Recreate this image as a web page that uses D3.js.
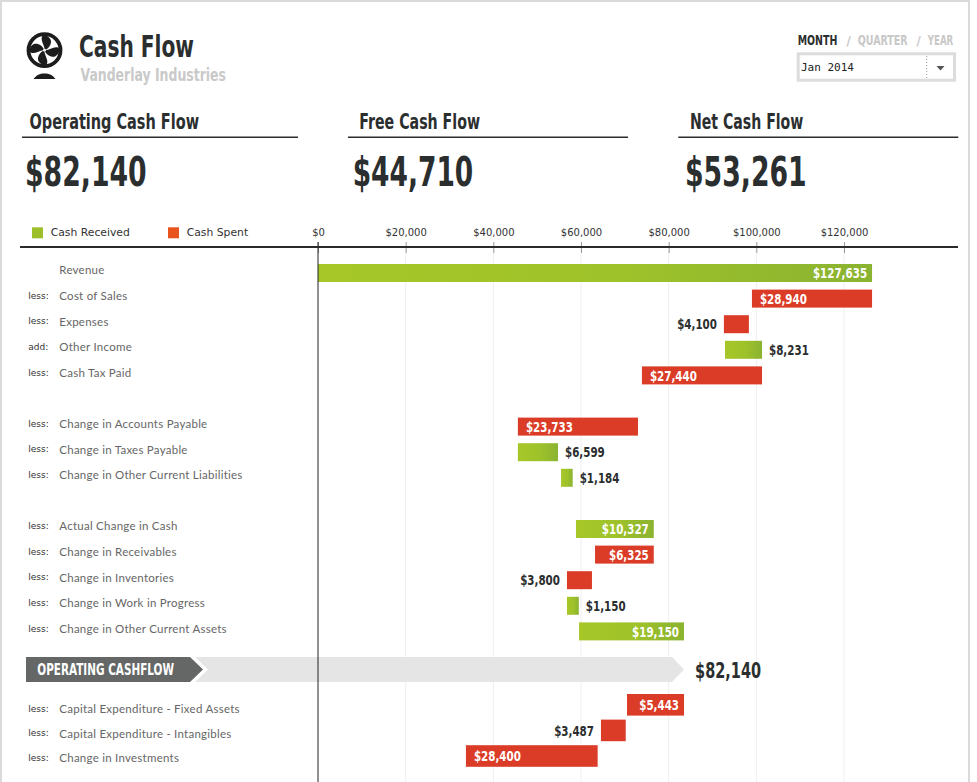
<!DOCTYPE html>
<html><head><meta charset="utf-8">
<script src="https://cdn.jsdelivr.net/npm/d3@7"></script>
<style>
html,body{margin:0;padding:0;background:#fff;}
svg{display:block;}
</style></head><body>
<svg id="chart" width="977" height="782"></svg>
<script>
// ---------------- DATA ----------------
const rowLabels = ["Revenue","Cost of Sales","Expenses","Other Income","Cash Tax Paid",
  "Change in Accounts Payable","Change in Taxes Payable","Change in Other Current Liabilities",
  "Actual Change in Cash","Change in Receivables","Change in Inventories","Change in Work in Progress","Change in Other Current Assets",
  "Capital Expenditure - Fixed Assets","Capital Expenditure - Intangibles","Change in Investments"];
const rowPrefixes = ["","less:","less:","add:","less:","less:","less:","less:","less:","less:","less:","less:","less:","less:","less:","less:"];
const rowGroup = [0,0,0,0,0,1,1,1,2,2,2,2,2,3,3,3];
const flowType = ["received","spent","spent","received","spent","spent","received","received","received","spent","spent","received","received","spent","spent","spent"];
const amounts = [127635,28940,4100,8231,27440,23733,6599,1184,10327,6325,3800,1150,19150,5443,3487,28400];
const barFrom = [0,99000,92600,92850,73900,45600,45600,55450,58850,63200,56800,56800,59550,70500,64550,33750];
const barTo   = [126400,126400,98300,101300,101300,73000,54750,58100,76600,76600,62500,59500,83500,83500,70200,63800];
const tickValues = [0,20000,40000,60000,80000,100000,120000];
const kpiTitles = ["Operating Cash Flow","Free Cash Flow","Net Cash Flow"];
const kpiValues = [82140,44710,53261];
const operatingTotal = 82140;
const legendLabels = ["Cash Received","Cash Spent"];
const periods = ["MONTH","QUARTER","YEAR"];
const selectedPeriod = "Jan 2014";

// ---------------- STYLE / LAYOUT ----------------
const labelPos = ["inR","inL","outL","outR","inL","inL","outR","outR","inR","inR","outL","outR","inR","inR","outL","inL"];
const W=977,H=782;
const DARK="#2b2e2e";
const COND="'Liberation Sans Narrow','DejaVu Sans Condensed','Arial Narrow',sans-serif";
const LABELF="Lato,'Open Sans',sans-serif";
const GREEN_L="#9dc02a", RED_L="#e8531e", RED="#db3c27";
const fmt=d3.format("$,");

const svg=d3.select("#chart");
const defs=svg.append("defs");
const gg=defs.append("linearGradient").attr("id","gGreen").attr("x1",0).attr("x2",1).attr("y1",0).attr("y2",0);
gg.selectAll("stop").data([[0,"#a7c728"],[0.55,"#9ec22a"],[1,"#8ab331"]]).join("stop")
  .attr("offset",d=>d[0]).attr("stop-color",d=>d[1]);

// frame
svg.append("rect").attr("x",1).attr("y",1).attr("width",968).attr("height",H+10)
  .attr("fill","none").attr("stroke","#dadada").attr("stroke-width",2);

// logo
const logo=svg.append("g").attr("transform","translate(44.5,50.2)");
logo.append("circle").attr("r",16).attr("fill","none").attr("stroke","#1c1c1c").attr("stroke-width",3.8);
const blade="M0,0 C-2,-4 -8.5,-5 -9.8,-9.5 C-10.2,-13.2 -4.5,-14.2 -1,-12.2 C2.2,-10 2.8,-4 0,0 Z";
[0,90,180,270].forEach(a=>logo.append("path").attr("d",blade).attr("transform",`rotate(${a+35})`).attr("fill","#1c1c1c"));
logo.append("circle").attr("r",1.4).attr("fill","#fff");
logo.append("path").attr("d","M-11,28.8 C-8,24.5 -5,23.2 0,23.2 C5,23.2 8,24.5 11,28.8 Z").attr("fill","#1c1c1c");

// titles
svg.append("text").attr("x",79).attr("y",57.3).text("Cash Flow")
  .attr("font-family",COND).attr("font-weight","bold").attr("font-size",30).attr("fill",DARK)
  .attr("textLength",115).attr("lengthAdjust","spacingAndGlyphs");
svg.append("text").attr("x",80.5).attr("y",80.7).text("Vanderlay Industries")
  .attr("font-family",COND).attr("font-weight","bold").attr("font-size",18.5).attr("fill","#c9c9c9")
  .attr("textLength",145.5).attr("lengthAdjust","spacingAndGlyphs");

// period selector: each word squeezed by a horizontal scale so its real box matches
const perX=[797.7,857.7,927.7], perW=[39.6,50,25.6];
periods.forEach((p,i)=>{
  const g=svg.append("g");
  const t=g.append("text").attr("x",0).attr("y",0).text(p)
    .attr("font-family",COND).attr("font-weight","bold").attr("font-size",14)
    .attr("fill",i===0?DARK:"#c8c8c8");
  const s=perW[i]/t.node().getComputedTextLength();
  g.attr("transform",`translate(${perX[i]},45) scale(${s},1)`);
  if(i>0) svg.append("text").attr("x",perX[i]-9).attr("y",45).attr("text-anchor","middle").text("/")
    .attr("font-family",COND).attr("font-weight","bold").attr("font-size",13).attr("fill","#c8c8c8");
});
svg.append("rect").attr("x",798.2).attr("y",53.8).attr("width",156.3).attr("height",26.4)
  .attr("fill","#fff").attr("stroke","#dcdcdc").attr("stroke-width",3);
svg.append("text").attr("x",801).attr("y",71).text(selectedPeriod)
  .attr("font-family","'DejaVu Sans Mono',monospace").attr("font-size",11).attr("fill","#222");
svg.append("line").attr("x1",926.7).attr("x2",926.7).attr("y1",56).attr("y2",78)
  .attr("stroke","#999").attr("stroke-dasharray","1,2");
svg.append("path").attr("d","M936.5,66 L944.5,66 L940.5,70.5 Z").attr("fill","#555");

// KPIs
const kpiX=[22,348,678.3], kpiLw=[276,280,280], kpiTx=[29.5,359.3,690], kpiTl=[169.5,120.7,113.3], kpiNx=[25,352.7,685], kpiNl=[121.7,120.6,121.7];
kpiTitles.forEach((t,i)=>{
  svg.append("text").attr("x",kpiTx[i]).attr("y",129.3).text(t)
    .attr("font-family",COND).attr("font-weight","bold").attr("font-size",21).attr("fill",DARK)
    .attr("textLength",kpiTl[i]).attr("lengthAdjust","spacingAndGlyphs");
  svg.append("line").attr("x1",kpiX[i]).attr("x2",kpiX[i]+kpiLw[i]).attr("y1",137.3).attr("y2",137.3)
    .attr("stroke",DARK).attr("stroke-width",1.5);
  svg.append("text").attr("x",kpiNx[i]).attr("y",186).text(fmt(kpiValues[i]))
    .attr("font-family",COND).attr("font-weight","bold").attr("font-size",40).attr("fill",DARK)
    .attr("textLength",kpiNl[i]).attr("lengthAdjust","spacingAndGlyphs");
});

// legend
const legX=[32,168];
legendLabels.forEach((l,i)=>{
  svg.append("rect").attr("x",legX[i]).attr("y",227.3).attr("width",11).attr("height",11)
    .attr("fill",i===0?GREEN_L:RED_L);
  svg.append("text").attr("x",legX[i]+18.7).attr("y",236).text(l)
    .attr("font-family","'DejaVu Sans',Verdana,sans-serif").attr("font-size",10.8).attr("fill","#333");
});

// scales
const x=d3.scaleLinear().domain([0,120000]).range([318,844]);
const yRow=d3.scaleLinear().domain([0,1]).range([264,289.6]);
const yCap=d3.scaleLinear().domain([0,1]).range([694,719.6]);
const slotOf=i=>rowGroup[i]===0?i:(rowGroup[i]===1?i+1:i+2);
const barTop=i=>rowGroup[i]===3?yCap(i-13):yRow(slotOf(i));
const barH=i=>rowGroup[i]===3?21.6:18;
const labelY=i=>rowGroup[i]===3?709.3+(i-13)*24.2:yRow(slotOf(i))+6.3;

// gridlines
svg.append("g").selectAll("line").data(tickValues.filter(d=>d>0)).join("line")
  .attr("x1",d=>x(d)).attr("x2",d=>x(d)).attr("y1",248).attr("y2",H)
  .attr("stroke","#efefef").attr("stroke-width",1);

// operating cashflow band
const bTop=657,bBot=682,bMid=669.5,vEnd=x(operatingTotal);
svg.append("path").attr("d",d3.line()([[195,bTop],[vEnd-6,bTop],[vEnd+6,bMid],[vEnd-6,bBot],[195,bBot],[208,bMid]])+"Z")
  .attr("fill","#e4e5e4");
svg.append("path").attr("d",d3.line()([[26,bTop],[190,bTop],[203,bMid],[190,bBot],[26,bBot]])+"Z")
  .attr("fill","#646766");
svg.append("text").attr("x",37.3).attr("y",675).text("OPERATING CASHFLOW")
  .attr("font-family",COND).attr("font-weight","bold").attr("font-size",15).attr("fill","#fff")
  .attr("textLength",136.7).attr("lengthAdjust","spacingAndGlyphs");
svg.append("text").attr("x",vEnd+17).attr("y",677.5).text(fmt(operatingTotal))
  .attr("font-family",COND).attr("font-weight","bold").attr("font-size",21).attr("fill",DARK)
  .attr("textLength",66).attr("lengthAdjust","spacingAndGlyphs");

// row labels
const idx=d3.range(rowLabels.length);
svg.append("g").selectAll("text").data(idx).join("text")
  .attr("x",28.3).attr("y",i=>labelY(i)).attr("dy","0.33em").text(i=>rowPrefixes[i])
  .attr("font-family","'DejaVu Sans',sans-serif").attr("font-size",9).attr("fill","#333");
svg.append("g").selectAll("text").data(idx).join("text")
  .attr("x",59.3).attr("y",i=>labelY(i)).attr("dy","0.35em").text(i=>rowLabels[i])
  .attr("font-family",LABELF).attr("font-size",11.5).attr("letter-spacing",0.25).attr("fill","#666");

// bars
svg.append("g").selectAll("rect").data(idx).join("rect")
  .attr("x",i=>x(barFrom[i])).attr("width",i=>x(barTo[i])-x(barFrom[i]))
  .attr("y",barTop).attr("height",barH)
  .attr("fill",i=>flowType[i]==="received"?"url(#gGreen)":RED);

// bar value labels
const vl=svg.append("g").selectAll("text").data(idx).join("text")
  .attr("x",i=>{const p=labelPos[i];return p==="inR"?x(barTo[i])-5:p==="inL"?x(barFrom[i])+8:p==="outL"?x(barFrom[i])-7:x(barTo[i])+7;})
  .attr("y",i=>barTop(i)+barH(i)/2).attr("dy","0.36em")
  .attr("text-anchor",i=>(labelPos[i]==="inR"||labelPos[i]==="outL")?"end":"start")
  .attr("fill",i=>labelPos[i].startsWith("in")?"#fff":DARK)
  .attr("font-family",COND).attr("font-weight","bold").attr("font-size",14.5)
  .text(i=>fmt(amounts[i]));
vl.each(function(){const L=this.getComputedTextLength();d3.select(this).attr("textLength",L*0.79).attr("lengthAdjust","spacingAndGlyphs");});

// axis
const ax=svg.append("g").attr("transform","translate(0,247)")
  .call(d3.axisTop(x).tickValues(tickValues).tickFormat(fmt).tickSizeOuter(0).tickSizeInner(0).tickPadding(11));
ax.select(".domain").remove();
ax.selectAll(".tick line").attr("y1",-5).attr("y2",6).attr("stroke","#999");
ax.selectAll(".tick text").attr("font-family","'DejaVu Sans',Verdana,sans-serif").attr("font-size",10).attr("fill","#333");
svg.append("line").attr("x1",x(0)).attr("x2",x(0)).attr("y1",242).attr("y2",H).attr("stroke","#222").attr("stroke-width",1);
svg.append("line").attr("x1",20).attr("x2",958).attr("y1",247).attr("y2",247).attr("stroke","#2b2b2b").attr("stroke-width",2);
</script>
</body></html>
